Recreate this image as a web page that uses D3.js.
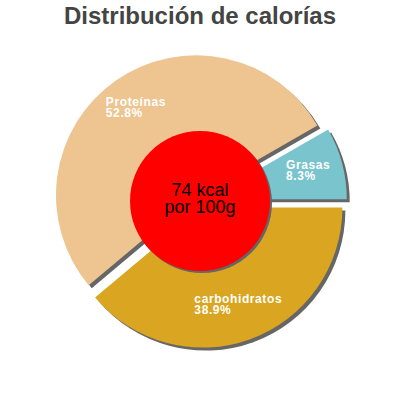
<!DOCTYPE html>
<html lang="es">
<head>
    <meta charset="UTF-8">
    <title>Distribución de calorías</title>
    <script src="https://d3js.org/d3.v7.min.js"></script>
    <style>
        body {
            margin: 0;
            background: white;
        }
        svg text {
            font-family: "Liberation Sans", Arial, sans-serif;
        }
    </style>
</head>
<body>
    <div id="chart"></div>

    <script>
        const categories = ["carbohidratos", "Proteínas", "Grasas"];
        const values = [38.9, 52.8, 8.3];
        const colors = ["#DAA520", "#EEC591", "#7AC5CD"];
        const titleText = "Distribución de calorías";
        const centerLines = ["74 kcal", "por 100g"];

        const width = 400,
              height = 400,
              cx = 200,
              cy = 201,
              radius = 140,
              innerRadius = 70,
              explode = 7,
              shadowOffset = 3;

        const data = categories.map((c, i) => ({name: c, value: values[i], color: colors[i]}));

        const svg = d3.select("#chart")
                      .append("svg")
                      .attr("width", width)
                      .attr("height", height);

        svg.append("text")
           .attr("x", width / 2)
           .attr("y", 24)
           .attr("text-anchor", "middle")
           .attr("fill", "#444444")
           .style("font-size", "24px")
           .style("font-weight", "bold")
           .text(titleText);

        const pie = d3.pie()
                      .sort(null)
                      .startAngle(Math.PI / 2)
                      .endAngle(Math.PI / 2 + 2 * Math.PI)
                      .value(d => d.value);

        const arc = d3.arc()
                      .innerRadius(0)
                      .outerRadius(radius);

        const labelArc = d3.arc()
                           .innerRadius(innerRadius)
                           .outerRadius(radius);

        const arcs = pie(data);

        // offset of each slice away from the centre
        function shift(d) {
            const mid = (d.startAngle + d.endAngle) / 2;
            return [Math.sin(mid) * explode, -Math.cos(mid) * explode];
        }

        const g = svg.append("g")
                     .attr("transform", `translate(${cx},${cy})`);

        // shadows first
        g.selectAll("path.shadow")
         .data(arcs)
         .enter()
         .append("path")
         .attr("class", "shadow")
         .attr("d", arc)
         .attr("fill", "#666666")
         .attr("transform", d => {
             const s = shift(d);
             return `translate(${s[0] + shadowOffset},${s[1] + shadowOffset})`;
         });

        g.selectAll("path.slice")
         .data(arcs)
         .enter()
         .append("path")
         .attr("class", "slice")
         .attr("d", arc)
         .attr("fill", d => d.data.color)
         .attr("transform", d => `translate(${shift(d)})`);

        // labels: two left-aligned lines, block centred on the centroid
        const labels = g.selectAll("g.label")
                        .data(arcs)
                        .enter()
                        .append("g")
                        .attr("class", "label");

        labels.each(function(d) {
            const s = shift(d);
            const c = labelArc.centroid(d);
            const x = c[0] + s[0], y = c[1] + s[1];
            const lab = d3.select(this);
            const t1 = lab.append("text")
                          .attr("y", y - 3)
                          .text(d.data.name);
            const t2 = lab.append("text")
                          .attr("y", y + 8)
                          .text(d.data.value.toFixed(1) + "%");
            lab.selectAll("text")
               .attr("fill", "white")
               .style("font-size", "12px")
               .style("font-weight", "bold")
               .style("letter-spacing", "0.6px");
            const w = Math.max(t1.node().getComputedTextLength(), t2.node().getComputedTextLength());
            lab.selectAll("text").attr("x", x - w / 2);
        });

        // centre disc
        g.append("circle")
         .attr("cx", 2)
         .attr("cy", 2)
         .attr("r", innerRadius)
         .attr("fill", "#666666");

        g.append("circle")
         .attr("r", innerRadius)
         .attr("fill", "#FF0000");

        g.selectAll("text.center")
         .data(centerLines)
         .enter()
         .append("text")
         .attr("class", "center")
         .attr("text-anchor", "middle")
         .attr("y", (d, i) => -5 + i * 17)
         .attr("fill", "black")
         .style("font-size", "18px")
         .text(d => d);
    </script>
</body>
</html>
